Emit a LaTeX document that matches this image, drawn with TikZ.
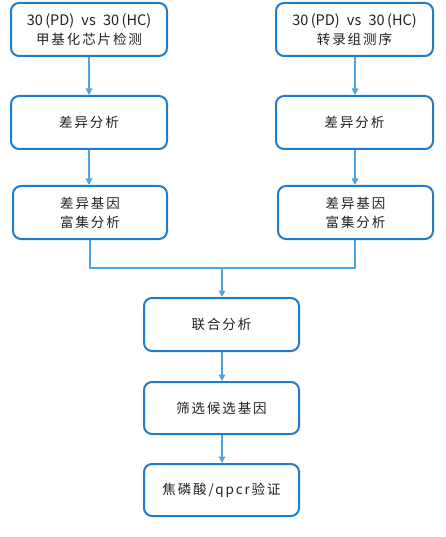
\documentclass[tikz,border=0pt]{standalone}
\usepackage{fontspec}
\setmainfont{Noto Sans CJK SC}[LetterSpace=14]
\newfontfamily\latinfont{Noto Sans CJK SC}
\usetikzlibrary{arrows.meta}
\definecolor{boxblue}{HTML}{1F7DCB}
\definecolor{linkblue}{HTML}{4FA3E0}
\definecolor{txt}{HTML}{222222}
\newcommand{\grp}{{\latinfont\fontsize{14.5}{19}\selectfont 30\,(PD)\enspace vs\enspace 30\,(HC)}}
\begin{document}
\begin{tikzpicture}[x=1pt,y=-1pt,
  stepbox/.style={draw=boxblue, line width=2pt, rounded corners=8pt, fill=white,
    minimum height=53pt, align=center, text=txt, font=\fontsize{13.5}{19}\selectfont, inner sep=0pt},
  link/.style={draw=linkblue, line width=1.4pt},
  arr/.style={link, -{Triangle[width=6.5pt,length=6.5pt]}}]
\useasboundingbox (0,0) rectangle (445,537);
\node[stepbox, minimum width=156pt] (a1) at (89,29.5) {\grp\\甲基化芯片检测};
\node[stepbox, minimum width=157pt] (b1) at (354.5,29.5) {\grp\\转录组测序};
\node[stepbox, minimum width=156pt] (a2) at (89,122.5) {差异分析};
\node[stepbox, minimum width=157pt] (b2) at (354.5,122.5) {差异分析};
\node[stepbox, minimum width=154pt] (a3) at (90,212.5) {差异基因\\富集分析};
\node[stepbox, minimum width=155pt] (b3) at (355.5,212.5) {差异基因\\富集分析};
\node[stepbox, minimum width=155pt] (c1) at (221.5,324.5) {联合分析};
\node[stepbox, minimum width=155pt, minimum height=52pt] (c2) at (221.5,408) {筛选候选基因};
\node[stepbox, minimum width=155pt, minimum height=52pt] (c3) at (221.5,490) {焦磷酸/qpcr验证};
\coordinate (m) at (222,268);
\draw[arr] (a1.south -| 89,0) -- (a2.north -| 89,0);
\draw[arr] (b1.south -| 355,0) -- (b2.north -| 355,0);
\draw[arr] (a2.south -| 89,0) -- (a3.north -| 89,0);
\draw[arr] (b2.south -| 355,0) -- (b3.north -| 355,0);
\draw[link] (a3.south -| 90,0) |- (m);
\draw[link] (b3.south -| 355,0) |- (m);
\draw[arr] (m) -- (c1.north -| m);
\draw[arr] (c1.south -| m) -- (c2.north -| m);
\draw[arr] (c2.south -| m) -- (c3.north -| m);
\end{tikzpicture}
\end{document}
